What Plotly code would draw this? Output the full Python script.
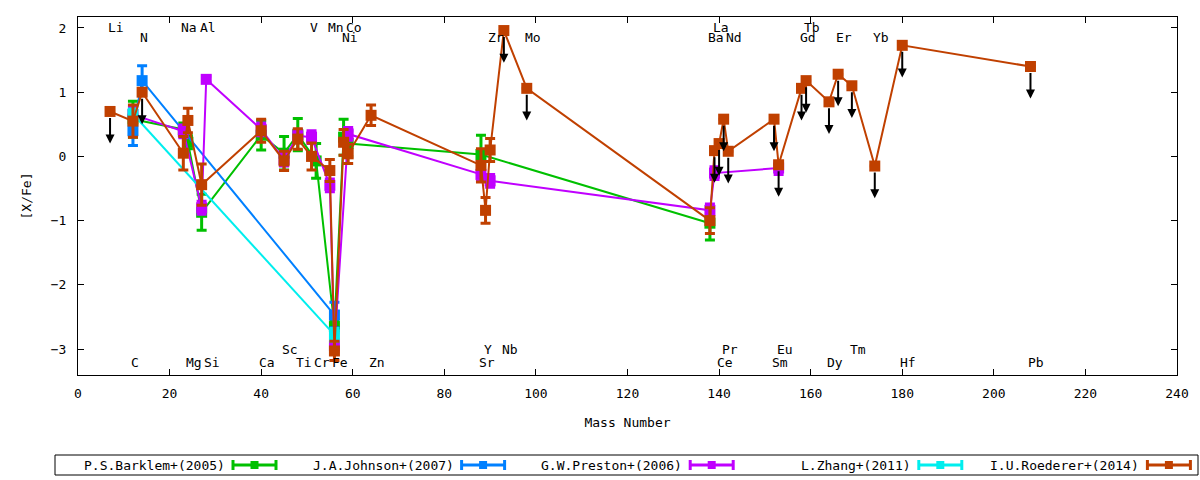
import plotly.graph_objects as go

# ---------------- data ----------------
series_names = ["P.S.Barklem+(2005)", "J.A.Johnson+(2007)", "G.W.Preston+(2006)",
                "L.Zhang+(2011)", "I.U.Roederer+(2014)"]

bark_el = ["C", "Na", "Mg", "Al", "Ca", "Sc", "Ti", "Cr", "Fe", "Ni", "Co", "Sr", "Ba"]
bark_mass = [12, 23, 24, 27, 40, 45, 48, 52, 56, 58, 59, 88, 138]
bark_val = [0.58, 0.42, 0.22, -0.87, 0.33, 0.05, 0.34, -0.07, -2.65, 0.30, 0.20, 0.03, -1.04]
bark_err = [0.28, 0.10, 0.10, 0.28, 0.23, 0.26, 0.25, 0.27, 0.10, 0.28, 0.20, 0.30, 0.26]

john_el = ["C", "N", "Fe"]
john_mass = [12, 14, 56]
john_val = [0.40, 1.18, -2.47]
john_err = [0.23, 0.23, 0.20]

pres_el = ["C", "Na", "Al", "Si", "Ca", "Sc", "Ti", "V", "Mn", "Fe", "Co", "Sr", "Zr",
           "Ba", "La", "Eu"]
pres_mass = [12, 23, 27, 28, 40, 45, 48, 51, 55, 56, 59, 88, 90, 138, 139, 153]
pres_val = [0.65, 0.39, -0.80, 1.20, 0.42, -0.05, 0.32, 0.30, -0.45, -2.95, 0.35, -0.28,
            -0.38, -0.84, -0.26, -0.18]
pres_err = [0.12, 0.10, 0.10, 0.05, 0.10, 0.10, 0.10, 0.10, 0.10, 0.10, 0.10, 0.10,
            0.10, 0.10, 0.10, 0.10]

zhang_el = ["C", "Fe"]
zhang_mass = [12, 56]
zhang_val = [0.66, -2.78]
zhang_err = [0.08, 0.10]

roed_el = ["Li", "C", "N", "Na", "Mg", "Al", "Ca", "Sc", "Ti", "V", "Mn", "Fe", "Ni", "Co",
           "Zn", "Sr", "Y", "Zr", "Nb", "Mo", "Ba", "La", "Ce", "Pr", "Nd", "Sm", "Eu",
           "Gd", "Tb", "Dy", "Er", "Tm", "Yb", "Hf", "Pb"]
roed_mass = [7, 12, 14, 23, 24, 27, 40, 45, 48, 51, 55, 56, 58, 59, 64, 88, 89, 90, 93, 98,
             138, 139, 140, 141, 142, 152, 153, 158, 159, 164, 166, 169, 174, 180, 208]
roed_val = [0.70, 0.55, 1.00, 0.05, 0.56, -0.44, 0.40, -0.07, 0.27, 0.00, -0.22, -3.03,
            0.22, 0.04, 0.64, -0.14, -0.84, 0.10, 1.96, 1.06, -1.00, 0.09, 0.20, 0.58,
            0.08, 0.58, -0.13, 1.06, 1.18, 0.85, 1.28, 1.10, -0.15, 1.73, 1.40]
roed_err = [None, 0.25, None, 0.26, 0.19, 0.32, 0.18, 0.15, 0.16, 0.21, 0.17, 0.15,
            0.20, 0.15, 0.16, 0.26, 0.20, 0.18, None, None, 0.20, None, None, None,
            None, None, None, None, None, None, None, None, None, None, None]
roed_upper = [1, 0, 1, 0, 0, 0, 0, 0, 0, 0, 0, 0, 0, 0, 0, 0, 0, 0, 1, 1,
              0, 1, 1, 1, 1, 1, 1, 1, 1, 1, 1, 1, 1, 1, 1]
limit_len = 0.5

# element labels (mass number positions)
lab_top1 = ["Li", "Na", "Al", "V", "Mn", "Co", "La", "Tb"]
lab_top1_m = [7, 23, 27, 51, 55, 59, 139, 159]
lab_top2 = ["N", "Ni", "Zr", "Mo", "Ba", "Nd", "Gd", "Er", "Yb"]
lab_top2_m = [14, 58, 90, 98, 138, 142, 158, 166, 174]
lab_bot1 = ["Sc", "Y", "Nb", "Pr", "Eu", "Tm"]
lab_bot1_m = [45, 89, 93, 141, 153, 169]
lab_bot2 = ["C", "Mg", "Si", "Ca", "Ti", "Cr", "Fe", "Zn", "Sr", "Ce", "Sm", "Dy", "Hf", "Pb"]
lab_bot2_m = [12, 24, 28, 40, 48, 52, 56, 64, 88, 140, 152, 164, 180, 208]
label_rows_y = [2.0, 1.85, -3.0, -3.21]

x_ticks = list(range(0, 241, 20))
y_ticks = [-3, -2, -1, 0, 1, 2]

# ---------------- styling ----------------
colors = ["#00c000", "#0080ff", "#c000ff", "#00eeee", "#c04000"]
FONT = "DejaVu Sans Mono"
W, H = 1200, 480
L, R, T, B = 78, 23, 17, 105
PW, PH = W - L - R, H - T - B


def px2x(px):
    return (px - L) / PW


def px2y(py):
    return (H - B - py) / PH


fig = go.Figure()
all_series = [
    (bark_mass, bark_val, bark_err, bark_el),
    (john_mass, john_val, john_err, john_el),
    (pres_mass, pres_val, pres_err, pres_el),
    (zhang_mass, zhang_val, zhang_err, zhang_el),
    (roed_mass, roed_val, roed_err, roed_el),
]
for (m, v, e, el), c, n in zip(all_series, colors, series_names):
    fig.add_trace(go.Scatter(
        x=m, y=v, mode="lines+markers", name=n, text=el,
        line=dict(color=c, width=2),
        marker=dict(symbol="square", size=11, color=c, line=dict(width=0)),
        error_y=dict(type="data", array=e, visible=True, color=c, thickness=3, width=5),
        showlegend=False, cliponaxis=True,
    ))

annotations = []
# upper-limit arrows
for m, v, u in zip(roed_mass, roed_val, roed_upper):
    if u:
        annotations.append(dict(
            x=m, y=v - limit_len, ax=m, ay=v, xref="x", yref="y", axref="x", ayref="y",
            showarrow=True, arrowhead=2, arrowsize=0.9, arrowwidth=2, arrowcolor="black",
            startstandoff=5, text=""))

# element labels
for labs, ms, yy in zip([lab_top1, lab_top2, lab_bot1, lab_bot2],
                        [lab_top1_m, lab_top2_m, lab_bot1_m, lab_bot2_m], label_rows_y):
    for t, m in zip(labs, ms):
        annotations.append(dict(
            x=m, y=yy, xref="x", yref="y", text=t, showarrow=False,
            xanchor="left", yanchor="middle", xshift=-3, borderpad=0,
            font=dict(family=FONT, size=13, color="black")))

# custom gnuplot-style legend
shapes = [dict(type="rect", xref="paper", yref="paper",
               x0=px2x(55), x1=px2x(1198), y0=px2y(475), y1=px2y(455),
               line=dict(color="black", width=1), fillcolor="rgba(0,0,0,0)")]
ly = 465
step = 228.6
for i, (n, c) in enumerate(zip(series_names, colors)):
    tx = 226 + step * i
    s0, s1 = 233 + step * i, 276 + step * i
    annotations.append(dict(
        x=px2x(tx), y=px2y(ly), xref="paper", yref="paper", text=n, showarrow=False,
        xanchor="right", yanchor="middle", borderpad=0,
        font=dict(family=FONT, size=13, color="black")))
    shapes.append(dict(type="line", xref="paper", yref="paper",
                       x0=px2x(s0), x1=px2x(s1), y0=px2y(ly), y1=px2y(ly),
                       line=dict(color=c, width=3)))
    for sx in (s0, s1):
        shapes.append(dict(type="line", xref="paper", yref="paper",
                           x0=px2x(sx), x1=px2x(sx), y0=px2y(ly - 5), y1=px2y(ly + 5),
                           line=dict(color=c, width=3)))
    mid = (s0 + s1) / 2
    shapes.append(dict(type="rect", xref="paper", yref="paper",
                       x0=px2x(mid - 4), x1=px2x(mid + 4), y0=px2y(ly + 4), y1=px2y(ly - 4),
                       line=dict(width=0), fillcolor=c))

fig.update_layout(
    width=W, height=H,
    margin=dict(l=L, r=R, t=T, b=B, pad=0),
    paper_bgcolor="white", plot_bgcolor="white",
    font=dict(family=FONT, size=13, color="black"),
    annotations=annotations, shapes=shapes,
    xaxis=dict(range=[0, 240], tickvals=x_ticks, ticks="inside", ticklen=6,
               tickcolor="black", showline=True, linecolor="black", linewidth=1,
               mirror="ticks", showgrid=False, zeroline=False,
               title=dict(text="Mass Number", standoff=18,
                          font=dict(family=FONT, size=13)),
               ticklabelstandoff=6),
    yaxis=dict(range=[-3.404, 2.171], tickvals=y_ticks, ticks="inside", ticklen=6,
               tickcolor="black", showline=True, linecolor="black", linewidth=1,
               mirror="ticks", showgrid=False, zeroline=False,
               title=dict(text="[X/Fe]", standoff=16, font=dict(family=FONT, size=13)),
               ticklabelstandoff=8),
)

fig.write_html("out.html", config={"displayModeBar": False},
               post_script="document.body.style.margin='0';"
                           "document.body.style.overflow='hidden';")
